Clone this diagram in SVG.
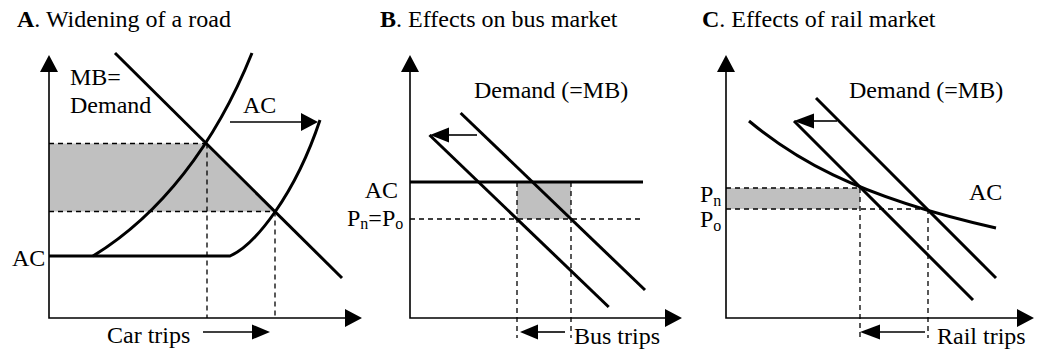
<svg xmlns="http://www.w3.org/2000/svg" width="1037" height="351" viewBox="0 0 1037 351">
<style>
text{font-family:"Liberation Serif","Times New Roman",serif;font-size:24px;fill:#000}
.sub{font-size:16px}
.ax{stroke:#000;stroke-width:1.6;fill:none}
.thk{stroke:#000;stroke-width:3;fill:none}
.dsh{stroke:#000;stroke-width:1.3;stroke-dasharray:5 4;fill:none}
.sh{fill:#c0c0c0;stroke:none}
.hd{fill:#000;stroke:none}
.ln{stroke:#000;stroke-width:1.6;fill:none}
</style>
<rect width="1037" height="351" fill="#fff"/>

<g id="panelA">
<text x="17" y="27"><tspan font-weight="bold">A</tspan>. Widening of a road</text>
<path class="sh" d="M49,143.5 L207,143.5 L275,211.5 L49,211.5 Z"/>
<path class="dsh" d="M49,143.5 H207 M49,211.5 H275 M207,143.5 V318 M275,211.5 V318"/>
<path class="ax" d="M49,70 V318 H346"/>
<path class="hd" d="M49,55 L40,72 L58,72 Z M362,318 L345,309 L345,327 Z"/>
<path class="thk" d="M115,53 L342,278"/>
<path class="thk" d="M93,256 C160,215 215,145 252,53"/>
<path class="thk" d="M49,256 H230 C255,245 295,195 320,120"/>
<text x="70" y="85">MB=</text>
<text x="70" y="113">Demand</text>
<text x="243" y="113">AC</text>
<text x="12" y="266">AC</text>
<text x="107" y="343">Car trips</text>
</g>

<g id="panelB">
<text x="380" y="27"><tspan font-weight="bold">B</tspan>. Effects on bus market</text>
<rect class="sh" x="517" y="182" width="54" height="37"/>
<path class="dsh" d="M410,219 H643 M517,182 V338 M571,182 V338"/>
<path class="ax" d="M410,70 V318 H666"/>
<path class="hd" d="M410,55 L401,72 L419,72 Z M682,318 L665,309 L665,327 Z"/>
<path class="thk" d="M410,182 H643"/>
<path class="thk" d="M460.6,113 L645,290"/>
<path class="thk" d="M429.5,135 L608.7,307"/>
<text x="474" y="98">Demand (=MB)</text>
<text x="398" y="198" text-anchor="end">AC</text>
<text x="347" y="226">P<tspan class="sub" dy="3">n</tspan><tspan dy="-3">=P</tspan><tspan class="sub" dy="3">o</tspan></text>
<text x="574" y="344">Bus trips</text>
</g>

<g id="panelC">
<text x="702" y="27"><tspan font-weight="bold">C</tspan>. Effects of rail market</text>
<rect class="sh" x="726" y="188" width="134" height="21"/>
<path class="dsh" d="M726,188 H860 M726,209 H928 M860,188 V338 M928,209 V338"/>
<path class="ax" d="M726,70 V318 H1018"/>
<path class="hd" d="M726,55 L717,72 L735,72 Z M1034,318 L1017,309 L1017,327 Z"/>
<path class="thk" d="M816,98 L996,278"/>
<path class="thk" d="M794,121 L973,300"/>
<path class="thk" d="M749,121 C790,155 850,195 996,228"/>
<text x="849" y="98">Demand (=MB)</text>
<text x="969" y="200">AC</text>
<text x="700" y="202">P<tspan class="sub" dy="4">n</tspan></text>
<text x="700" y="227">P<tspan class="sub" dy="4">o</tspan></text>
<text x="937" y="344">Rail trips</text>
</g>

<g id="connectors">
<path class="ln" d="M230,122 H302"/>
<path class="hd" d="M318,122 L301,113 L301,131 Z"/>
<path class="ln" d="M203,332 H253"/>
<path class="hd" d="M270,332 L252,324.5 L252,339.5 Z"/>
<path class="ln" d="M477,135 H448"/>
<path class="hd" d="M430,135 L449,127.5 L449,142.5 Z"/>
<path class="ln" d="M565,332 H536"/>
<path class="hd" d="M520,332 L538,324.5 L538,339.5 Z"/>
<path class="ln" d="M837,121 H812"/>
<path class="hd" d="M794,121 L814,113.5 L814,128.5 Z"/>
<path class="ln" d="M925,332 H878"/>
<path class="hd" d="M860,332 L880,324.5 L880,339.5 Z"/>
</g>
</svg>
